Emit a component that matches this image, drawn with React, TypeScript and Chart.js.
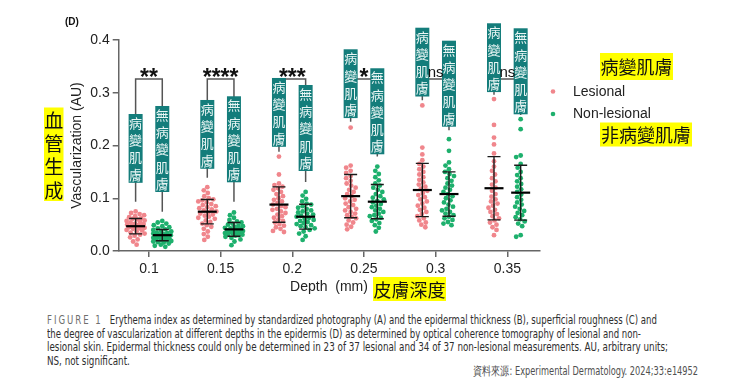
import React, { useEffect, useLayoutEffect, useRef } from "react";
import { Chart, registerables } from "chart.js";

Chart.register(...registerables);

// ---------- data ----------
const depths = [0.1, 0.15, 0.2, 0.25, 0.3, 0.35];
const xTickLabels = ["0.1", "0.15", "0.2", "0.25", "0.3", "0.35"];
const yTickLabels = ["0.0", "0.1", "0.2", "0.3", "0.4"];

const lesional0p10 = [0.075, 0.072, 0.070, 0.068, 0.066, 0.064, 0.062, 0.061, 0.060, 0.058, 0.057, 0.055, 0.054, 0.052, 0.051, 0.050, 0.049, 0.048, 0.047, 0.046, 0.045, 0.044, 0.043, 0.042, 0.040, 0.039, 0.037, 0.035, 0.033, 0.031, 0.029, 0.026, 0.022, 0.018, 0.012];
const lesional0p15 = [0.121, 0.115, 0.110, 0.104, 0.100, 0.098, 0.096, 0.094, 0.092, 0.089, 0.087, 0.085, 0.083, 0.081, 0.079, 0.077, 0.075, 0.073, 0.071, 0.069, 0.067, 0.065, 0.063, 0.061, 0.058, 0.055, 0.052, 0.049, 0.046, 0.042, 0.037, 0.032, 0.027, 0.021];
const lesional0p20 = [0.179, 0.145, 0.128, 0.125, 0.122, 0.119, 0.116, 0.112, 0.108, 0.104, 0.100, 0.097, 0.094, 0.091, 0.088, 0.085, 0.083, 0.080, 0.078, 0.075, 0.072, 0.069, 0.066, 0.063, 0.060, 0.057, 0.054, 0.051, 0.048, 0.045, 0.042, 0.038, 0.036];
const lesional0p25 = [0.234, 0.162, 0.158, 0.152, 0.148, 0.142, 0.138, 0.133, 0.128, 0.124, 0.120, 0.116, 0.112, 0.108, 0.104, 0.100, 0.097, 0.094, 0.090, 0.087, 0.083, 0.080, 0.077, 0.074, 0.071, 0.068, 0.065, 0.062, 0.058, 0.054, 0.050, 0.046, 0.041];
const lesional0p30 = [0.276, 0.196, 0.183, 0.172, 0.165, 0.160, 0.155, 0.150, 0.145, 0.140, 0.135, 0.130, 0.126, 0.122, 0.118, 0.114, 0.110, 0.106, 0.102, 0.098, 0.094, 0.090, 0.086, 0.082, 0.078, 0.074, 0.070, 0.066, 0.062, 0.058, 0.054, 0.050, 0.045];
const lesional0p35 = [0.288, 0.239, 0.215, 0.202, 0.185, 0.170, 0.160, 0.152, 0.145, 0.138, 0.132, 0.126, 0.120, 0.114, 0.108, 0.103, 0.098, 0.094, 0.090, 0.086, 0.082, 0.078, 0.074, 0.070, 0.066, 0.062, 0.058, 0.054, 0.050, 0.045, 0.040, 0.030];

const nonLesional0p10 = [0.057, 0.054, 0.052, 0.049, 0.047, 0.045, 0.043, 0.041, 0.040, 0.038, 0.037, 0.035, 0.034, 0.033, 0.032, 0.031, 0.030, 0.029, 0.028, 0.027, 0.026, 0.025, 0.024, 0.023, 0.022, 0.021, 0.020, 0.019, 0.018, 0.017, 0.016, 0.014, 0.012, 0.010, 0.008];
const nonLesional0p15 = [0.073, 0.068, 0.063, 0.059, 0.056, 0.054, 0.052, 0.050, 0.048, 0.047, 0.046, 0.044, 0.043, 0.042, 0.041, 0.040, 0.039, 0.038, 0.037, 0.036, 0.035, 0.034, 0.033, 0.032, 0.031, 0.030, 0.029, 0.027, 0.025, 0.022, 0.018, 0.011];
const nonLesional0p20 = [0.112, 0.105, 0.099, 0.094, 0.090, 0.088, 0.085, 0.082, 0.080, 0.077, 0.075, 0.073, 0.071, 0.069, 0.067, 0.065, 0.063, 0.061, 0.059, 0.057, 0.055, 0.053, 0.051, 0.049, 0.047, 0.045, 0.043, 0.040, 0.037, 0.033, 0.028, 0.021];
const nonLesional0p25 = [0.160, 0.152, 0.146, 0.140, 0.134, 0.128, 0.124, 0.120, 0.116, 0.112, 0.108, 0.104, 0.101, 0.098, 0.095, 0.092, 0.089, 0.086, 0.083, 0.080, 0.077, 0.074, 0.071, 0.068, 0.066, 0.063, 0.060, 0.057, 0.053, 0.049, 0.044, 0.037];
const nonLesional0p30 = [0.212, 0.190, 0.168, 0.162, 0.155, 0.150, 0.146, 0.142, 0.138, 0.133, 0.128, 0.124, 0.120, 0.116, 0.112, 0.108, 0.104, 0.100, 0.096, 0.092, 0.088, 0.084, 0.080, 0.077, 0.074, 0.071, 0.068, 0.065, 0.062, 0.059, 0.055, 0.052, 0.049];
const nonLesional0p35 = [0.250, 0.231, 0.181, 0.178, 0.165, 0.158, 0.150, 0.144, 0.138, 0.132, 0.127, 0.122, 0.117, 0.112, 0.107, 0.102, 0.097, 0.092, 0.088, 0.084, 0.080, 0.076, 0.072, 0.068, 0.064, 0.060, 0.056, 0.052, 0.047, 0.030, 0.027];

const lesionalGroups = [lesional0p10, lesional0p15, lesional0p20, lesional0p25, lesional0p30, lesional0p35];
const nonLesionalGroups = [nonLesional0p10, nonLesional0p15, nonLesional0p20, nonLesional0p25, nonLesional0p30, nonLesional0p35];

const lesionalMean = [0.047, 0.0745, 0.088, 0.104, 0.1156, 0.119];
const lesionalSD = [0.0145, 0.023, 0.0335, 0.041, 0.0505, 0.060];
const nonLesionalMean = [0.030, 0.041, 0.065, 0.0935, 0.108, 0.1106];
const nonLesionalSD = [0.0107, 0.013, 0.0235, 0.0325, 0.042, 0.052];

const significance = ["**", "****", "***", "*", "ns", "ns"];
const bracketLevel = 0.326;
const significanceLevel = 0.3385;
const bracketEndLesional = [0.0935, 0.139, 0.188, 0.245, 0.286, 0.296];
const bracketEndNonLesional = [0.0745, 0.0935, 0.131, 0.179, 0.229, 0.258];

const labelLesional = "病變肌膚";
const labelNonLesional = "無病變肌膚";
const labelTopLesional = [0.2597, 0.2863, 0.328, 0.3824, 0.4233, 0.4317];
const labelTopNonLesional = [0.2749, 0.2933, 0.3147, 0.3464, 0.3987, 0.4222];

const seriesNames = ["Lesional", "Non-lesional"];
const seriesNamesZh = ["病變肌膚", "非病變肌膚"];
const yAxisTitle = "Vascularization (AU)";
const yAxisTitleZh = "血管生成";
const xAxisTitle = "Depth  (mm)";
const xAxisTitleZh = "皮膚深度";
const panelLabel = "(D)";

const captionHead = "FIGURE 1";
const captionLines = [
  "Erythema index as determined by standardized photography (A) and the epidermal thickness (B), superficial roughness (C) and",
  "the degree of vascularization at different depths in the epidermis (D) as determined by optical coherence tomography of lesional and non-",
  "lesional skin. Epidermal thickness could only be determined in 23 of 37 lesional and 34 of 37 non-lesional measurements. AU, arbitrary units;",
  "NS, not significant.",
];
const sourceText = "資料來源: Experimental Dermatology. 2024;33:e14952";

// ---------- styling ----------
const PINK = "#f0868c";
const GREEN = "#1eb06d";
const TEAL = "#147d7b";
const YELLOW = "#ffff00";
const AXIS = "#666666";
const TEXT = "#222222";
const SANS = "'Liberation Sans', Arial, sans-serif";
const CJK = "'Noto Sans CJK TC', 'Noto Sans CJK SC', sans-serif";
const groupOffset = 0.0093;

const swarmPlugin = {
  id: "swarm",
  afterDatasetsUpdate(chart: any) {
    chart.data.datasets.forEach((ds: any, di: number) => {
      const meta = chart.getDatasetMeta(di);
      const groups = new Map<number, any[]>();
      meta.data.forEach((el: any, i: number) => {
        const key = ds.data[i].x;
        if (!groups.has(key)) groups.set(key, []);
        groups.get(key)!.push(el);
      });
      const D = 4.6;
      const maxOff = 9;
      groups.forEach((els) => {
        const sorted = [...els].sort((a, b) => a.y - b.y);
        const placed: { x: number; y: number }[] = [];
        for (const el of sorted) {
          const cx = el.x;
          let best = 0;
          let bestScore = -1;
          let found = false;
          for (let k = 0; k <= maxOff * 4; k++) {
            const dx = (k % 2 === 0 ? 1 : -1) * Math.ceil(k / 2) * 0.5;
            const nx = cx + dx;
            let minD = Infinity;
            for (const p of placed) {
              const dd = Math.hypot(p.x - nx, p.y - el.y);
              if (dd < minD) minD = dd;
            }
            if (minD >= D) {
              best = dx;
              found = true;
              break;
            }
            if (minD > bestScore) {
              bestScore = minD;
              best = dx;
            }
          }
          if (!found && bestScore < 0) best = 0;
          el.x = cx + best;
          placed.push({ x: el.x, y: el.y });
        }
      });
    });
  },
};

const annotationPlugin = {
  id: "annotations",
  afterDatasetsDraw(chart: any) {
    const { ctx, scales } = chart;
    const xs = scales.x;
    const ys = scales.y;
    ctx.save();

    const drawStats = (cx: number, mean: number, sd: number) => {
      const ym = ys.getPixelForValue(mean);
      const yt = ys.getPixelForValue(mean + sd);
      const yb = ys.getPixelForValue(mean - sd);
      ctx.strokeStyle = "#1a1a1a";
      ctx.lineWidth = 1.4;
      ctx.beginPath();
      ctx.moveTo(cx, yt);
      ctx.lineTo(cx, yb);
      ctx.moveTo(cx - 6.5, yt);
      ctx.lineTo(cx + 6.5, yt);
      ctx.moveTo(cx - 6.5, yb);
      ctx.lineTo(cx + 6.5, yb);
      ctx.stroke();
      ctx.lineWidth = 2.2;
      ctx.strokeStyle = "#000";
      ctx.beginPath();
      ctx.moveTo(cx - 9.5, ym);
      ctx.lineTo(cx + 9.5, ym);
      ctx.stroke();
    };

    depths.forEach((d, i) => {
      const xL = xs.getPixelForValue(d - groupOffset);
      const xN = xs.getPixelForValue(d + groupOffset);
      drawStats(xL, lesionalMean[i], lesionalSD[i]);
      drawStats(xN, nonLesionalMean[i], nonLesionalSD[i]);

      const yb = ys.getPixelForValue(bracketLevel);
      ctx.strokeStyle = "#555";
      ctx.lineWidth = 1.5;
      ctx.beginPath();
      ctx.moveTo(xL, ys.getPixelForValue(bracketEndLesional[i]));
      ctx.lineTo(xL, yb);
      ctx.lineTo(xN, yb);
      ctx.lineTo(xN, ys.getPixelForValue(bracketEndNonLesional[i]));
      ctx.stroke();
    });

    depths.forEach((d, i) => {
      const xL = xs.getPixelForValue(d - groupOffset);
      const xN = xs.getPixelForValue(d + groupOffset);
      const drawBox = (cx: number, topVal: number, text: string) => {
        const chars = Array.from(text);
        const cell = 17.2;
        const top = ys.getPixelForValue(topVal);
        const w = 14;
        ctx.fillStyle = TEAL;
        ctx.fillRect(cx - w / 2, top, w, chars.length * cell);
        ctx.fillStyle = "#eaf6f5";
        ctx.font = `13px ${CJK}`;
        ctx.textAlign = "center";
        ctx.textBaseline = "middle";
        chars.forEach((c, k) => ctx.fillText(c, cx, top + cell * (k + 0.5) + 0.5));
      };
      drawBox(xL, labelTopLesional[i], labelLesional);
      drawBox(xN, labelTopNonLesional[i], labelNonLesional);

      const xc = xs.getPixelForValue(d);
      const ysig = ys.getPixelForValue(significanceLevel);
      ctx.fillStyle = "#111";
      ctx.textAlign = "center";
      ctx.textBaseline = "alphabetic";
      if (significance[i] === "ns") {
        ctx.font = `15px ${SANS}`;
        ctx.fillText(significance[i], xc, ysig + 5);
      } else {
        ctx.font = `bold 23px ${SANS}`;
        ctx.fillText(significance[i], xc, ysig + 13);
      }
    });

    // legend
    const legendY = [91.5, 114];
    const colors = [PINK, GREEN];
    seriesNames.forEach((name, i) => {
      ctx.fillStyle = colors[i];
      ctx.beginPath();
      ctx.arc(553, legendY[i], 2.3, 0, Math.PI * 2);
      ctx.fill();
      ctx.fillStyle = TEXT;
      ctx.font = `14px ${SANS}`;
      ctx.textAlign = "left";
      ctx.textBaseline = "middle";
      ctx.fillText(name, 573, legendY[i] + 0.5);
    });

    const hl = (text: string, x: number, y: number, w: number, h: number, size: number) => {
      ctx.fillStyle = YELLOW;
      ctx.fillRect(x, y, w, h);
      ctx.fillStyle = "#111";
      ctx.font = `${size}px ${CJK}`;
      ctx.textAlign = "center";
      ctx.textBaseline = "middle";
      ctx.fillText(text, x + w / 2, y + h / 2 + 1);
    };
    hl(seriesNamesZh[0], 600, 53, 73, 27, 18);
    hl(seriesNamesZh[1], 600, 122.5, 92, 24, 18);
    hl(xAxisTitleZh, 373, 277, 73, 24, 18);

    ctx.fillStyle = YELLOW;
    ctx.fillRect(44, 107.5, 19.5, 93.5);
    ctx.fillStyle = "#111";
    ctx.font = `19px ${CJK}`;
    ctx.textAlign = "center";
    ctx.textBaseline = "middle";
    Array.from(yAxisTitleZh).forEach((c, k) => ctx.fillText(c, 53.8, 119.6 + k * 23.3 + 1));

    ctx.fillStyle = "#111";
    ctx.font = `bold 10px ${SANS}`;
    ctx.textAlign = "left";
    ctx.textBaseline = "middle";
    ctx.fillText(panelLabel, 65, 22);

    ctx.restore();
  },
};

function ChartCanvas() {
  const ref = useRef<HTMLCanvasElement | null>(null);
  useEffect(() => {
    if (!ref.current) return;
    const chart = new Chart(ref.current, {
      type: "scatter",
      data: {
        datasets: [
          {
            label: seriesNames[0],
            data: depths.flatMap((d, i) => lesionalGroups[i].map((v) => ({ x: d - groupOffset, y: v }))),
            backgroundColor: PINK,
            borderWidth: 0,
            pointRadius: 2.4,
          },
          {
            label: seriesNames[1],
            data: depths.flatMap((d, i) => nonLesionalGroups[i].map((v) => ({ x: d + groupOffset, y: v }))),
            backgroundColor: GREEN,
            borderWidth: 0,
            pointRadius: 2.4,
          },
        ],
      },
      options: {
        animation: false,
        responsive: false,
        events: [],
        layout: { padding: { left: 64.6, right: 200.7, top: 40, bottom: 5 } },
        plugins: { legend: { display: false }, tooltip: { enabled: false } },
        scales: {
          x: {
            type: "linear",
            min: 0.0789,
            max: 0.3723,
            afterBuildTicks: (scale: any) => {
              scale.ticks = depths.map((v) => ({ value: v }));
            },
            afterFit: (scale: any) => {
              scale.height = 49;
            },
            ticks: {
              autoSkip: false,
              color: TEXT,
              font: { size: 14, family: SANS },
              padding: 4,
              callback: (_v: any, i: number) => xTickLabels[i],
            },
            grid: { display: true, drawOnChartArea: false, drawTicks: true, tickLength: 6, color: AXIS, lineWidth: 1.5 },
            border: { display: true, color: AXIS, width: 1.5 },
            title: {
              display: true,
              text: xAxisTitle,
              color: TEXT,
              font: { size: 14, family: SANS },
              padding: { top: 4, bottom: 4 },
            },
          },
          y: {
            type: "linear",
            min: 0,
            max: 0.4,
            afterFit: (scale: any) => {
              scale.width = 54.1;
            },
            ticks: {
              stepSize: 0.1,
              color: TEXT,
              font: { size: 14, family: SANS },
              padding: 3,
              callback: (_v: any, i: number) => yTickLabels[i],
            },
            grid: { display: true, drawOnChartArea: false, drawTicks: true, tickLength: 6, color: AXIS, lineWidth: 1.5 },
            border: { display: true, color: AXIS, width: 1.5 },
            title: {
              display: true,
              text: yAxisTitle,
              color: TEXT,
              font: { size: 14, family: SANS },
              padding: { top: 4, bottom: 4 },
            },
          },
        },
      } as any,
      plugins: [swarmPlugin, annotationPlugin],
    });
    return () => chart.destroy();
  }, []);
  return <canvas ref={ref} width={740} height={305} style={{ position: "absolute", left: 0, top: 0 }} />;
}

const captionFont = "'Liberation Sans Narrow', 'Arial Narrow', 'DejaVu Sans Condensed', sans-serif";

function Caption() {
  const lineRefs = useRef<(HTMLDivElement | null)[]>([]);
  const srcRef = useRef<HTMLDivElement | null>(null);
  const targets = [610, 594, 621];
  useLayoutEffect(() => {
    let lastScale = 1;
    lineRefs.current.forEach((el, i) => {
      if (!el) return;
      const w = el.scrollWidth;
      const s = i < targets.length ? targets[i] / w : lastScale;
      lastScale = s;
      el.style.transform = `scaleX(${s})`;
    });
    if (srcRef.current) {
      const w = srcRef.current.scrollWidth;
      srcRef.current.style.transform = `scaleX(${225 / w})`;
    }
  }, []);
  const tops = [313, 326.7, 340.4, 354];
  return (
    <>
      {captionLines.map((line, i) => (
        <div
          key={i}
          ref={(el) => {
            lineRefs.current[i] = el;
          }}
          style={{
            position: "absolute",
            left: 47,
            top: tops[i],
            whiteSpace: "nowrap",
            font: `12px ${captionFont}`,
            lineHeight: "14px",
            color: "#2e2e2e",
            transformOrigin: "left center",
          }}
        >
          {i === 0 && (
            <span style={{ color: "#6e6e6e", letterSpacing: "2.5px", marginRight: 9 }}>{captionHead}</span>
          )}
          {line}
        </div>
      ))}
      <div
        ref={srcRef}
        style={{
          position: "absolute",
          left: 473,
          top: 364,
          whiteSpace: "nowrap",
          font: `12px ${captionFont}`,
          lineHeight: "14px",
          color: "#505050",
          transformOrigin: "left center",
        }}
      >
        {sourceText}
      </div>
    </>
  );
}

export default function App() {
  return (
    <div style={{ position: "absolute", left: 0, top: 0, width: 740, height: 390, background: "#fff", overflow: "hidden" }}>
      <ChartCanvas />
      <Caption />
    </div>
  );
}
